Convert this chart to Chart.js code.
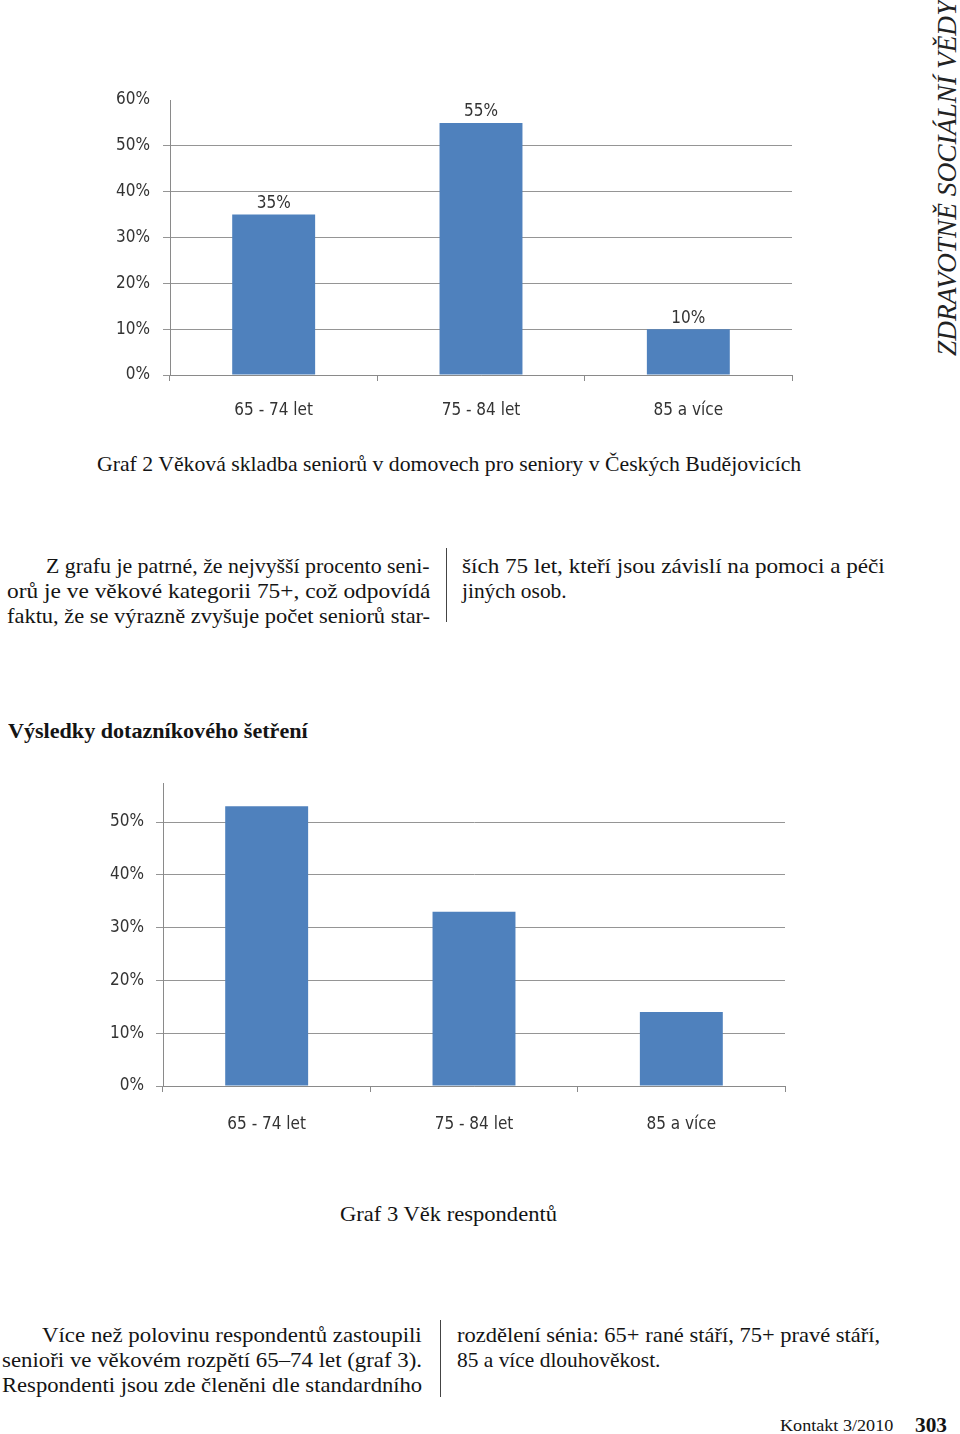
<!DOCTYPE html>
<html><head><meta charset="utf-8">
<script src="https://cdn.jsdelivr.net/npm/chart.js@4.4.1/dist/chart.umd.min.js"></script>
<style>
html,body{margin:0;padding:0;background:#fff;}
body{width:960px;height:1434px;position:relative;overflow:hidden;font-family:"Liberation Serif","DejaVu Serif",serif;color:#141414;}
.ln{position:absolute;white-space:nowrap;font-size:21px;line-height:26px;transform-origin:0 50%;}
.vline{position:absolute;width:1px;background:#444;}
canvas{position:absolute;}
#hdr{position:absolute;left:0;top:0;font-style:italic;font-size:27px;line-height:28px;white-space:nowrap;transform-origin:0 0;color:#222;}
</style></head><body>
<canvas id="c1" width="700" height="340" style="left:100px;top:85px;width:700px;height:340px"></canvas>
<canvas id="c2" width="700" height="370" style="left:95px;top:770px;width:700px;height:370px"></canvas>
<div id="hdr">ZDRAVOTNĚ SOCIÁLNÍ VĚDY</div>
<div class="vline" style="left:446px;top:548px;height:74px"></div>
<div class="vline" style="left:440px;top:1320px;height:77px"></div>
<div id="texts"></div>
<script>
// ---- data ----
const categories = ['65 - 74 let', '75 - 84 let', '85 a více'];
const graf2Values = [35, 55, 10];
const graf3Values = [53, 33, 14];
const graf2TickValues = [0, 10, 20, 30, 40, 50, 60];
const graf3TickValues = [0, 10, 20, 30, 40, 50];

// ---- text lines ----
const lines = [
  {t:'Graf 2  Věková skladba seniorů v domovech pro seniory v Českých Budějovicích', x:97, y:464, w:704},
  {t:'Z grafu je patrné, že nejvyšší procento seni-', x:46, y:566, w:384},
  {t:'orů je ve věkové kategorii 75+, což odpovídá', x:7, y:591, w:423},
  {t:'faktu, že se výrazně zvyšuje počet seniorů star-', x:7, y:616, w:423},
  {t:'ších 75 let, kteří jsou závislí na pomoci a péči', x:462, y:566, w:423},
  {t:'jiných osob.', x:462, y:591, w:105},
  {t:'Výsledky dotazníkového šetření', x:8, y:731, w:300, b:1, s:21},
  {t:'Graf 3  Věk respondentů', x:340, y:1214, w:217},
  {t:'Více než polovinu respondentů zastoupili', x:42, y:1335, w:380},
  {t:'senioři ve věkovém rozpětí 65–74 let (graf 3).', x:2, y:1360, w:420},
  {t:'Respondenti jsou zde členěni dle standardního', x:2, y:1385, w:420},
  {t:'rozdělení sénia: 65+ rané stáří, 75+ pravé stáří,', x:457, y:1335, w:423},
  {t:'85 a více dlouhověkost.', x:457, y:1360, w:203},
  {t:'Kontakt 3/2010', x:780, y:1425, w:113, s:17},
  {t:'303', x:915, y:1424, w:32, b:1, s:22}
];
const holder = document.getElementById('texts');
lines.forEach(l => {
  const d = document.createElement('div');
  d.className = 'ln';
  d.textContent = l.t;
  const size = l.s || 21;
  d.style.fontSize = size + 'px';
  d.style.lineHeight = (size * 1.3) + 'px';
  if (l.b) d.style.fontWeight = 'bold';
  d.style.left = l.x + 'px';
  d.style.top = (l.y - size * 0.7 + 2) + 'px';
  holder.appendChild(d);
  const nat = d.offsetWidth;
  d.style.transform = 'scaleX(' + (l.w / nat) + ')';
});
const hdr = document.getElementById('hdr');
const hw = hdr.offsetWidth;
hdr.style.transform = 'translate(933px, 356px) rotate(-90deg) scaleX(' + (355 / hw) + ')';

// ---- charts ----
const chartFont = '"Liberation Sans Narrow","DejaVu Sans Condensed","Liberation Sans",sans-serif';
const labelColor = '#333333';
const barColor = '#4f81bd';
const axisColor = '#8a8a8a';
const gridColor = '#959595';

const valueLabels = {
  id: 'valueLabels',
  afterDatasetsDraw(chart, args, opts) {
    if (!opts.show) return;
    const ctx = chart.ctx;
    const meta = chart.getDatasetMeta(0);
    ctx.save();
    ctx.font = '17px ' + chartFont;
    ctx.fillStyle = labelColor;
    ctx.textAlign = 'center';
    ctx.textBaseline = 'middle';
    meta.data.forEach((bar, i) => {
      ctx.fillText(chart.data.datasets[0].data[i] + '%', bar.x, bar.y - 11);
    });
    ctx.restore();
  }
};

function makeChart(id, values, tickValues, max, cfg) {
  const topTick = tickValues[tickValues.length - 1];
  return new Chart(document.getElementById(id), {
    type: 'bar',
    data: {
      labels: categories,
      datasets: [{data: values, backgroundColor: barColor, borderWidth: 0,
        categoryPercentage: 1, barPercentage: 0.4}]
    },
    plugins: [valueLabels],
    options: {
      responsive: false, animation: false, devicePixelRatio: 1,
      layout: {padding: {top: cfg.padTop, right: cfg.padRight, left: 0, bottom: 0}},
      plugins: {legend: {display: false}, tooltip: {enabled: false}, valueLabels: {show: cfg.showLabels}},
      scales: {
        x: {
          grid: {offset: true, drawOnChartArea: false, drawTicks: true, tickLength: 6, color: axisColor},
          border: {color: axisColor, width: 1},
          ticks: {font: {family: chartFont, size: 17}, color: labelColor, padding: cfg.xPad, maxRotation: 0},
          afterFit(s) { s.height = cfg.xHeight; s.paddingLeft = 0; s.paddingRight = 0; }
        },
        y: {
          min: 0, max: max,
          grid: {
            color: c => (c.tick && c.tick.value === max && max === topTick && cfg.hideTop) ? 'rgba(0,0,0,0)' : gridColor,
            tickLength: 7, lineWidth: 1
          },
          border: {color: axisColor, width: 1},
          afterBuildTicks(s) { s.ticks = tickValues.map(v => ({value: v})); },
          ticks: {stepSize: 10, includeBounds: false, callback: v => v + '%',
            font: {family: chartFont, size: 17}, color: labelColor, padding: cfg.yPad},
          afterFit(s) { s.width = cfg.yWidth; s.paddingTop = 0; s.paddingBottom = 0; }
        }
      }
    }
  });
}

makeChart('c1', graf2Values, graf2TickValues, 60,
  {padTop: 15, padRight: 8, xHeight: 50, yWidth: 70, xPad: 19, yPad: 13, showLabels: true, hideTop: true});
makeChart('c2', graf3Values, graf3TickValues, 57.4,
  {padTop: 13, padRight: 10, xHeight: 54, yWidth: 68, xPad: 22, yPad: 12, showLabels: false, hideTop: false});
</script>
</body></html>
